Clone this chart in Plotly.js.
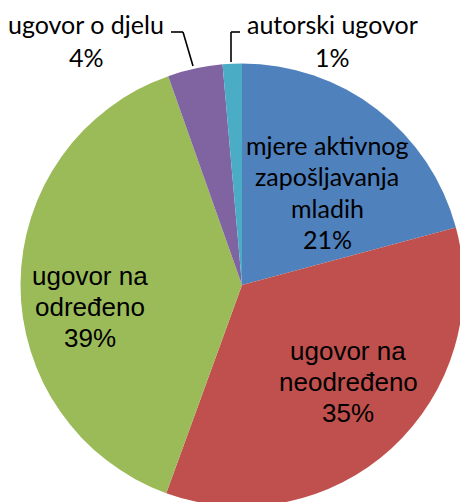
<!DOCTYPE html>
<html>
<head>
<meta charset="utf-8">
<script src="https://cdn.plot.ly/plotly-3.0.1.min.js"></script>
<style>
html,body{margin:0;padding:0;overflow:hidden;background:#fff;width:460px;height:502px;}
#chart{width:480px;height:520px;}
</style>
</head>
<body>
<div id="chart"></div>
<script>
// Data
const categories = ["mjere aktivnog zapošljavanja mladih", "ugovor na neodređeno", "ugovor na određeno", "ugovor o djelu", "autorski ugovor"];
const labelLines = [["mjere aktivnog", "zapošljavanja", "mladih"], ["ugovor na", "neodređeno"], ["ugovor na", "određeno"], ["ugovor o djelu"], ["autorski ugovor"]];
const values = [20.8, 34.7, 39.0, 4.0, 1.4];
const colors = ["#4F81BD", "#C0504D", "#9BBB59", "#8064A2", "#4BACC6"];

const W = 480, H = 520;
const px = x => x / W;
const py = y => 1 - y / H;

const total = values.reduce((a, b) => a + b, 0);
const pct = values.map(v => Math.round(v / total * 100) + "%");

const SANS = "Liberation Sans, Arial, sans-serif";
const CAL = "Lato, Open Sans, sans-serif";
// label placement (pixel positions of first baseline, line step, font)
const labelPos = [
  {x: 327, y: 153, step: 31.5, font: CAL, size: 25},
  {x: 348, y: 360, step: 31, font: SANS, size: 26},
  {x: 90, y: 285, step: 31, font: SANS, size: 26},
  {x: 86, y: 32, step: 33, font: CAL, size: 25},
  {x: 332, y: 32, step: 33, font: CAL, size: 25}
];

const annotations = [];
labelLines.forEach((lines, i) => {
  const p = labelPos[i];
  const all = lines.concat([pct[i]]);
  all.forEach((t, j) => {
    const base = p.y + j * p.step;
    annotations.push({
      text: t, showarrow: false, xref: "paper", yref: "paper",
      x: px(p.x), y: py(base - 0.33 * p.size), xanchor: "center", yanchor: "middle",
      font: {family: p.font, size: p.size, color: "#000"}
    });
  });
});

const seg = (x0, y0, x1, y1) => ({type: "line", xref: "paper", yref: "paper",
  x0: px(x0), y0: py(y0), x1: px(x1), y1: py(y1), line: {color: "#000", width: 1.6}});
const shapes = [
  seg(171, 32, 183, 32), seg(183, 32, 193, 66),
  seg(240, 32, 231, 32), seg(231, 32, 231, 62)
];

const cx = 242, cy = 285, r = 221.5;
const trace = {
  type: "pie",
  labels: categories,
  values: values,
  marker: {colors: colors, line: {width: 0}},
  sort: false,
  direction: "clockwise",
  rotation: 0,
  textinfo: "none",
  hoverinfo: "none",
  domain: {x: [px(cx - r), px(cx + r)], y: [py(cy + r), py(cy - r)]}
};

Plotly.newPlot("chart", [trace], {
  width: W, height: H,
  margin: {l: 0, r: 0, t: 0, b: 0},
  showlegend: false,
  paper_bgcolor: "#fff",
  annotations: annotations,
  shapes: shapes
}, {displayModeBar: false, staticPlot: true});
</script>
</body>
</html>
